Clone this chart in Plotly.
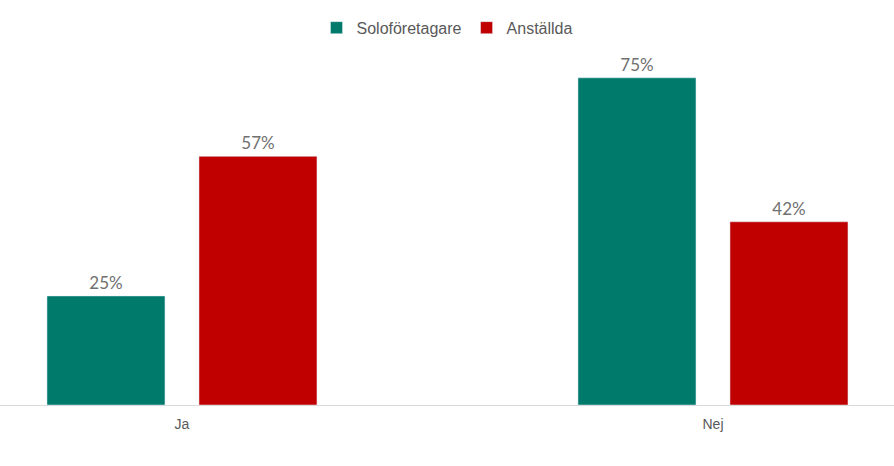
import plotly.graph_objects as go

categories = ["Ja", "Nej"]
solo = [25, 75]
anstallda = [57, 42]
series_names = ["Soloföretagare", "Anställda"]
colors = ["#007A6B", "#C00000"]

fig = go.Figure()
for name, vals, col in zip(series_names, [solo, anstallda], colors):
    fig.add_trace(go.Bar(
        x=categories, y=vals, name=name, marker_color=col,
        text=[f"{v}%" for v in vals], textposition="outside",
        textfont=dict(family="Lato, Liberation Sans, Arial", size=17, color="#707070"),
        cliponaxis=False,
    ))

fig.update_layout(
    width=894, height=466,
    margin=dict(l=0, r=0, t=56, b=61),
    plot_bgcolor="white", paper_bgcolor="white",
    barmode="group", bargap=0.4275, bargroupgap=0.2237,
    font=dict(family="Liberation Sans, Arial", color="#595959"),
    legend=dict(orientation="h", x=0.5, xanchor="center", y=1.081, yanchor="middle",
                font=dict(size=16, color="#595959"), traceorder="normal"),
    showlegend=True,
)
fig.update_xaxes(range=[-0.3427, 1.3409], showline=True, linecolor="#d9d9d9", linewidth=1,
                 ticks="", ticklabelstandoff=6, tickfont=dict(size=14, color="#595959"),
                 showgrid=False)
fig.update_yaxes(range=[0, 80], visible=False, showgrid=False)

fig.write_html("out.html", config={"displayModeBar": False},
               post_script="document.body.style.margin='0';")
